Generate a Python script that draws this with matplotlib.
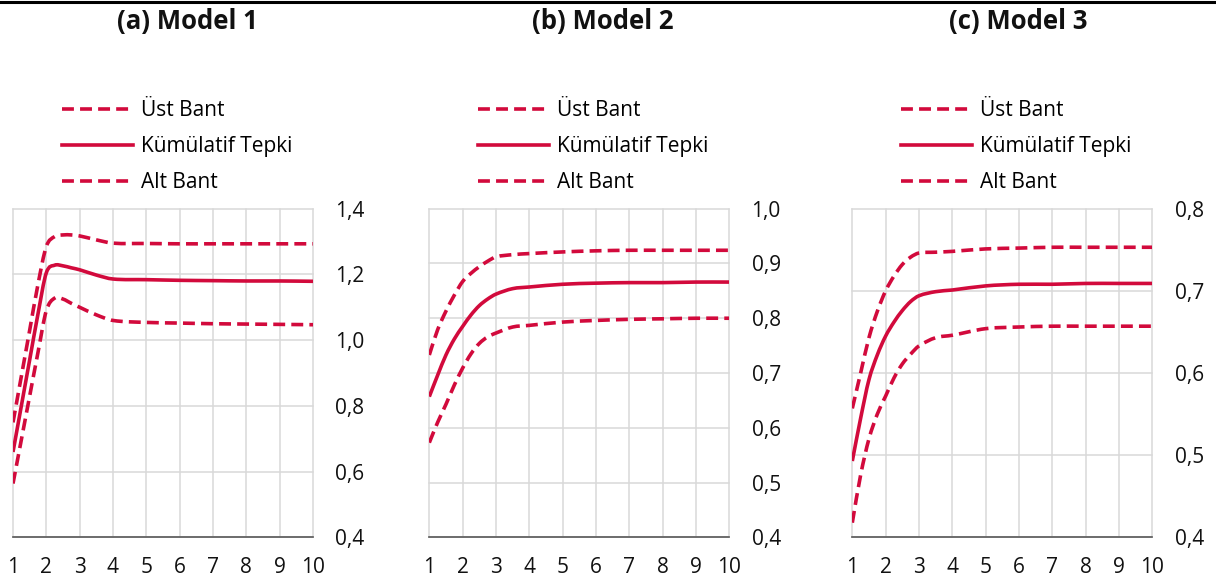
import numpy as np
import matplotlib
matplotlib.use("Agg")
import matplotlib.pyplot as plt
from matplotlib.path import Path
from matplotlib.patches import PathPatch
from matplotlib.lines import Line2D
from matplotlib.ticker import FuncFormatter

plt.rcParams['font.family'] = ['Open Sans', 'DejaVu Sans']

# horizon (finer near the start)
x = [1, 1.25, 1.5, 1.75, 2, 2.25, 2.5, 2.75, 3, 3.5, 4, 5, 6, 7, 8, 9, 10]

# (a) Model 1
m1_ust = [0.75, 0.89, 1.03, 1.17, 1.285, 1.315, 1.32, 1.32, 1.317, 1.305, 1.295, 1.294, 1.293, 1.293, 1.293, 1.293, 1.293]
m1_tepki = [0.66, 0.80, 0.94, 1.08, 1.205, 1.228, 1.226, 1.22, 1.214, 1.198, 1.186, 1.184, 1.182, 1.181, 1.180, 1.180, 1.179]
m1_alt = [0.564, 0.697, 0.83, 0.963, 1.09, 1.128, 1.125, 1.112, 1.10, 1.077, 1.06, 1.054, 1.052, 1.05, 1.049, 1.048, 1.047]

# (b) Model 2
m2_ust = [0.733, 0.779, 0.813, 0.842, 0.867, 0.882, 0.894, 0.904, 0.912, 0.916, 0.918, 0.921, 0.923, 0.924, 0.924, 0.924, 0.924]
m2_tepki = [0.657, 0.696, 0.733, 0.762, 0.785, 0.806, 0.823, 0.835, 0.844, 0.854, 0.857, 0.862, 0.864, 0.865, 0.865, 0.866, 0.866]
m2_alt = [0.573, 0.61, 0.643, 0.678, 0.709, 0.735, 0.754, 0.766, 0.773, 0.784, 0.787, 0.793, 0.796, 0.798, 0.799, 0.800, 0.800]

# (c) Model 3
m3_ust = [0.557, 0.60, 0.643, 0.675, 0.70, 0.718, 0.732, 0.741, 0.746, 0.747, 0.748, 0.751, 0.752, 0.753, 0.753, 0.753, 0.753]
m3_tepki = [0.493, 0.545, 0.592, 0.622, 0.645, 0.662, 0.676, 0.687, 0.694, 0.699, 0.701, 0.706, 0.708, 0.708, 0.709, 0.709, 0.709]
m3_alt = [0.418, 0.476, 0.52, 0.55, 0.572, 0.594, 0.611, 0.623, 0.633, 0.643, 0.646, 0.654, 0.656, 0.657, 0.657, 0.657, 0.657]

titles = ["(a) Model 1", "(b) Model 2", "(c) Model 3"]
labels = ["Üst Bant", "Kümülatif Tepki", "Alt Bant"]
y_ranges = [(0.4, 1.4, 0.2), (0.4, 1.0, 0.1), (0.4, 0.8, 0.1)]
x_ticks = list(range(1, 11))

RED = '#d20a3c'
LW = 2.6
DASH = (3.3, 1.7)


def smooth_path(xs, ys):
    # cubic hermite -> bezier control points, like excel's smoothed line
    xs = np.asarray(xs, float)
    ys = np.asarray(ys, float)
    n = len(xs)
    m = np.zeros(n)
    m[0] = (ys[1] - ys[0]) / (xs[1] - xs[0])
    m[-1] = (ys[-1] - ys[-2]) / (xs[-1] - xs[-2])
    for i in range(1, n - 1):
        m[i] = (ys[i + 1] - ys[i - 1]) / (xs[i + 1] - xs[i - 1])
    verts = [(xs[0], ys[0])]
    codes = [Path.MOVETO]
    for i in range(n - 1):
        h = xs[i + 1] - xs[i]
        verts += [(xs[i] + h / 3, ys[i] + m[i] * h / 3),
                  (xs[i + 1] - h / 3, ys[i + 1] - m[i + 1] * h / 3),
                  (xs[i + 1], ys[i + 1])]
        codes += [Path.CURVE4] * 3
    return Path(verts, codes)


def comma(v, pos):
    return f"{v:.1f}".replace('.', ',')


fig = plt.figure(figsize=(12.16, 5.80), dpi=100)

lefts = [13 / 1216, 429.3 / 1216, 852.3 / 1216]
title_x = [187 / 1216, 603 / 1216, 1018 / 1216]
series = [(m1_ust, m1_tepki, m1_alt), (m2_ust, m2_tepki, m2_alt), (m3_ust, m3_tepki, m3_alt)]

for k in range(3):
    ax = fig.add_axes([lefts[k], 0.0733, 300 / 1216, 0.567])
    lo, hi, step = y_ranges[k]
    ax.set_xlim(1, 10)
    ax.set_ylim(lo, hi)
    ax.set_xticks(x_ticks)
    ax.set_yticks(np.arange(lo, hi + step / 2, step))
    ax.yaxis.tick_right()
    ax.yaxis.set_major_formatter(FuncFormatter(comma))
    ax.tick_params(axis='both', length=0, labelsize=15, colors='#111111')
    ax.tick_params(axis='y', pad=16)
    ax.tick_params(axis='x', pad=14)
    ax.grid(True, color='#d9d9d9', lw=1.1)
    for gl in ax.get_xgridlines() + ax.get_ygridlines():
        gl.set_clip_on(False)
    for s in ['top', 'left', 'right']:
        ax.spines[s].set_visible(False)
    ax.spines['bottom'].set_color('#595959')
    ax.spines['bottom'].set_linewidth(1.2)
    ax.spines['bottom'].set_zorder(3)
    ax.set_axisbelow(True)

    ust, tepki, alt = series[k]
    for ys, dashed in [(ust, True), (tepki, False), (alt, True)]:
        p = PathPatch(smooth_path(x, ys), fill=False, edgecolor=RED, lw=LW, zorder=4)
        if dashed:
            p.set_linestyle((0, DASH))
        ax.add_patch(p)

    handles = [Line2D([], [], color=RED, lw=LW, dashes=DASH),
               Line2D([], [], color=RED, lw=LW),
               Line2D([], [], color=RED, lw=LW, dashes=DASH)]
    ax.legend(handles, labels, loc='upper left', bbox_to_anchor=(0.163, 1.33),
              frameon=False, fontsize=15, borderpad=0, borderaxespad=0,
              handlelength=3.4, handletextpad=0.4, labelspacing=0.72)

    fig.text(title_x[k], 1 - 22 / 580, titles[k], ha='center', va='center',
             fontsize=18.5, fontweight='bold', color='#111111')

# black rule on top
fig.add_artist(Line2D([0, 1], [1 - 1.5 / 580, 1 - 1.5 / 580], color='black', lw=2.2,
                      transform=fig.transFigure))

fig.savefig('out.png', dpi=100)
